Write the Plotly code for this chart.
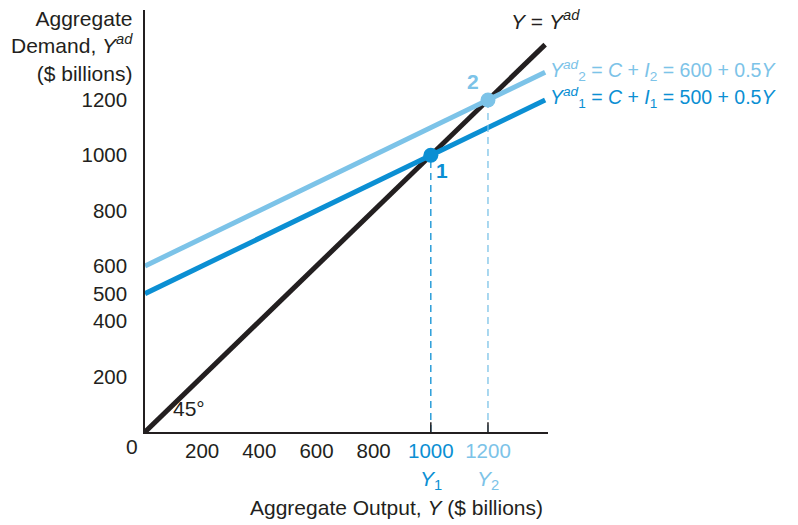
import plotly.graph_objects as go

# data
Y = [0, 1400]
C_I1 = [500, 0.5]   # intercept, slope
C_I2 = [600, 0.5]
eq_x = [1000, 1200]
y_ticks = [200, 400, 500, 600, 800, 1000, 1200]
x_ticks = [200, 400, 600, 800, 1000, 1200]

BLUE = '#0b8fd3'
LIGHT = '#7cc3e8'
BLACK = '#231f20'
FONT = 'Liberation Sans, Arial, sans-serif'

ad1 = [C_I1[0] + C_I1[1] * v for v in Y]
ad2 = [C_I2[0] + C_I2[1] * v for v in Y]

fig = go.Figure()
fig.add_trace(go.Scatter(x=Y, y=Y, mode='lines', line=dict(color=BLACK, width=5)))
fig.add_trace(go.Scatter(x=Y, y=ad2, mode='lines', line=dict(color=LIGHT, width=5)))
fig.add_trace(go.Scatter(x=Y, y=ad1, mode='lines', line=dict(color=BLUE, width=5)))

# dashed drop lines
for xe, col in zip(eq_x, [BLUE, LIGHT]):
    fig.add_trace(go.Scatter(x=[xe, xe], y=[0, xe], mode='lines',
                             line=dict(color=col, width=1.3, dash='7px,5px')))
    fig.add_shape(type='line', x0=xe, x1=xe, y0=0, y1=35, xref='x', yref='y',
                  line=dict(color=BLACK, width=1.5))

fig.add_trace(go.Scatter(x=[eq_x[0]], y=[eq_x[0]], mode='markers',
                         marker=dict(color=BLUE, size=15)))
fig.add_trace(go.Scatter(x=[eq_x[1]], y=[eq_x[1]], mode='markers',
                         marker=dict(color=LIGHT, size=15)))

tick_text = []
for t in x_ticks:
    if t == eq_x[0]:
        tick_text.append(f'<span style="color:{BLUE}">{t}</span>')
    elif t == eq_x[1]:
        tick_text.append(f'<span style="color:{LIGHT}">{t}</span>')
    else:
        tick_text.append(str(t))

# page body has an 8px margin, so the plot area is shifted back by that much
fig.update_layout(
    width=798, height=525,
    margin=dict(l=137, r=258, t=2, b=101),
    plot_bgcolor='white', paper_bgcolor='white',
    showlegend=False,
    font=dict(family=FONT, size=21, color=BLACK),
    xaxis=dict(range=[0, 1410], showgrid=False, zeroline=False,
               showline=True, linecolor=BLACK, linewidth=1.5,
               tickvals=x_ticks, ticktext=tick_text, ticks='', ticklabelstandoff=0,
               tickfont=dict(size=20.5)),
    yaxis=dict(range=[0, 1525], showgrid=False, zeroline=False,
               showline=True, linecolor=BLACK, linewidth=1.5,
               tickvals=y_ticks, ticks='', ticklabelstandoff=12,
               tickfont=dict(size=20.5)),
)

ann = [
    dict(x=0, y=0, xref='x', yref='y', text='0', xanchor='right', yanchor='top',
         xshift=-5, yshift=-1),
    dict(x=-0.025, y=1.0, xref='paper', yref='paper', xanchor='right', yanchor='top',
         align='right', yshift=5,
         text='Aggregate<br>Demand, <i>Y</i><sup><i>ad</i></sup><br>($ billions)'),
    dict(x=0.623, y=-0.18, xref='paper', yref='paper', xanchor='center', yanchor='middle',
         text='Aggregate Output, <i>Y</i> ($ billions)'),
    dict(x=eq_x[0], y=0, xref='x', yref='y', yanchor='middle', yshift=-48,
         text=f'<span style="color:{BLUE}"><i>Y</i><sub>1</sub></span>'),
    dict(x=eq_x[1], y=0, xref='x', yref='y', yanchor='middle', yshift=-48,
         text=f'<span style="color:{LIGHT}"><i>Y</i><sub>2</sub></span>'),
    dict(x=1400, y=1400, xref='x', yref='y', yanchor='bottom', xanchor='center',
         yshift=10, text='<i>Y</i> = <i>Y</i><sup><i>ad</i></sup>'),
    dict(x=1400, y=ad2[1], xref='x', yref='y', xanchor='left', xshift=3, yshift=2,
         font=dict(size=19.5),
         text=f'<span style="color:{LIGHT}"><i>Y</i><sup><i>ad</i></sup><sub>2</sub> = <i>C</i> + <i>I</i><sub>2</sub> = 600 + 0.5<i>Y</i></span>'),
    dict(x=1400, y=ad1[1], xref='x', yref='y', xanchor='left', xshift=3, yshift=2,
         font=dict(size=19.5),
         text=f'<span style="color:{BLUE}"><i>Y</i><sup><i>ad</i></sup><sub>1</sub> = <i>C</i> + <i>I</i><sub>1</sub> = 500 + 0.5<i>Y</i></span>'),
    dict(x=eq_x[1], y=eq_x[1], xref='x', yref='y', xshift=-15, yshift=18,
         text=f'<b><span style="color:{LIGHT}">2</span></b>'),
    dict(x=eq_x[0], y=eq_x[0], xref='x', yref='y', xshift=11, yshift=-15,
         text=f'<b><span style="color:{BLUE}">1</span></b>'),
    dict(x=0, y=0, xref='x', yref='y', xanchor='left', yanchor='bottom',
         xshift=26, yshift=10, text='45°'),
]
for a in ann:
    a['showarrow'] = False
    fig.add_annotation(**a)

fig.write_html('out.html')
